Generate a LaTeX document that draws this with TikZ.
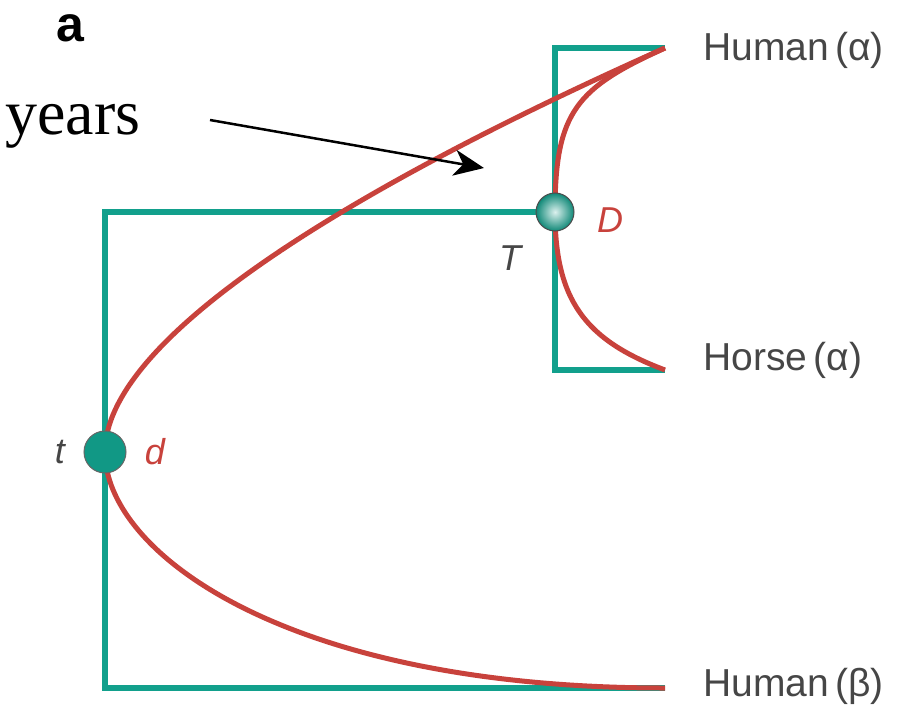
\documentclass[tikz,border=0pt]{standalone}
\usepackage{fontspec}
\setmainfont{Liberation Serif}
\setsansfont{Liberation Sans}
\usepackage{xcolor}
\usetikzlibrary{arrows.meta}

\definecolor{treegreen}{RGB}{18,160,140}
\definecolor{genered}{RGB}{200,66,60}
\definecolor{labelgray}{RGB}{70,70,70}

\tikzset{
  branch/.style={treegreen,line width=6pt},
  recon/.style={genered,line width=5pt},
  taxon/.style={anchor=west,font=\sffamily\fontsize{39}{41}\selectfont,text=labelgray,inner sep=0pt},
  evlabel/.style={font=\sffamily\itshape\fontsize{36}{38}\selectfont,inner sep=0pt}
}

\begin{document}
\begin{tikzpicture}[x=1pt,y=1pt]
\useasboundingbox (0,0) rectangle (901,-706);
% leaves and events
\coordinate (hA) at (665,-48);
\coordinate (hoA) at (665,-370);
\coordinate (hB) at (665,-688);
\coordinate (dupC) at (555,-212);
\coordinate (specC) at (105,-452);
% species tree
\draw[branch] (specC) |- (dupC);
\draw[branch] (specC) |- (hB);
\draw[branch] (dupC) |- (hA);
\draw[branch] (dupC) |- (hoA);
% gene tree
\draw[recon] (specC) .. controls (105,-342) and (335,-195) .. (hA);
\draw[recon] (specC) .. controls (105,-552) and (285,-688) .. (hB);
\draw[recon] (dupC) .. controls (555,-111) and (577,-88) .. (hA);
\draw[recon] (dupC) .. controls (555,-300) and (585,-340) .. (hoA);
% event nodes
\node[circle,minimum size=38pt,inner sep=0pt,draw=black!70,line width=1pt,
  inner color=white!85!treegreen,outer color=treegreen!85!black] (dup) at (dupC) {};
\node[circle,minimum size=42pt,inner sep=0pt,draw=black!60,line width=1pt,
  fill=treegreen!95!black] (spec) at (specC) {};
% labels
\node[taxon] (lhA) at (703,-50) {Human\,(α)};
\node[taxon] (lhoA) at (703,-360) {Horse\,(α)};
\node[taxon] (lhB) at (703,-686) {Human\,(β)};
\node[evlabel,text=genered] (lD) at (610,-220) {D};
\node[evlabel,text=labelgray] (lT) at (510,-258) {T};
\node[evlabel,text=labelgray] (lt) at (60,-452) {t};
\node[evlabel,text=genered] (ld) at (155,-452) {d};
\node[font=\sffamily\bfseries\fontsize{50}{52}\selectfont,inner sep=0pt] (pa) at (70,-28) {a};
\node[anchor=base west,font=\fontsize{64}{66}\selectfont,inner sep=0pt] (yrs) at (5,-135) {years};
% pointer
\coordinate (arrS) at (210,-120);
\coordinate (arrE) at (484,-168);
\draw[line width=2.5pt,-{Stealth[length=30pt,width=26pt,inset=9pt]}] (arrS) -- (arrE);
\end{tikzpicture}
\end{document}
